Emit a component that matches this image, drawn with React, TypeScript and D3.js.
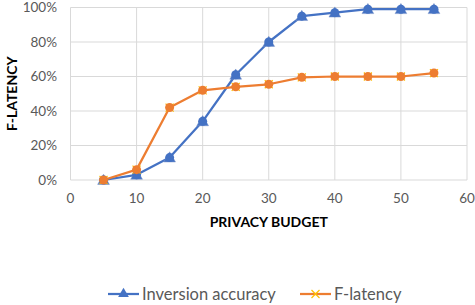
import React from 'react'
import * as d3 from 'd3'

const budgets = [5, 10, 15, 20, 25, 30, 35, 40, 45, 50, 55]
const inversionAccuracy = [0, 0.03, 0.13, 0.34, 0.61, 0.8, 0.95, 0.97, 0.99, 0.99, 0.99]
const fLatency = [0, 0.06, 0.42, 0.52, 0.54, 0.555, 0.595, 0.6, 0.6, 0.6, 0.62]
const xTicks = [0, 10, 20, 30, 40, 50, 60]
const yTicks = [0, 0.2, 0.4, 0.6, 0.8, 1]

const W = 475
const H = 305
const m = { left: 70.5, right: 8, top: 7.5, bottom: 125 }
const blue = '#4472C4'
const orange = '#ED7D31'
const font = 'Lato, "Open Sans", sans-serif'

export default function App() {
  const x = d3.scaleLinear().domain([0, 60]).range([m.left, W - m.right])
  const y = d3.scaleLinear().domain([0, 1]).range([H - m.bottom, m.top])

  const line = d3.line<number>()
    .x((_, i) => x(budgets[i]))
    .y(v => y(v))

  const tri = d3.symbol(d3.symbolTriangle, 60)()
  const cross = 'M-4,-4L4,4M-4,4L4,-4'

  return (
    <svg width={W} height={H} style={{ position: 'absolute', left: 0, top: 0, background: '#fff' }} fontFamily={font}>
      {yTicks.map(t => (
        <g key={'y' + t}>
          <line x1={x(0)} x2={x(60)} y1={y(t)} y2={y(t)} stroke="#d9d9d9" strokeWidth={1} />
          <text x={57} y={y(t)} dy="0.35em" textAnchor="end" fontSize={13.5} fill="#595959">{d3.format('.0%')(t)}</text>
        </g>
      ))}
      {xTicks.map(t => (
        <g key={'x' + t}>
          <line x1={x(t)} x2={x(t)} y1={y(0)} y2={y(1)} stroke="#d9d9d9" strokeWidth={1} />
          <text x={x(t)} y={y(0) + 23} textAnchor="middle" fontSize={13.5} fill="#595959">{t}</text>
        </g>
      ))}
      <text x={(x(0) + x(60)) / 2} y={227} textAnchor="middle" fontSize={14} fontWeight="bold" fill="#000">PRIVACY BUDGET</text>
      <text transform={`translate(17,${(y(0) + y(1)) / 2}) rotate(-90)`} textAnchor="middle" fontSize={14} fontWeight="bold" fill="#000">F-LATENCY</text>

      <path d={line(inversionAccuracy) || ''} fill="none" stroke={blue} strokeWidth={2.25} strokeLinejoin="round" />
      {inversionAccuracy.map((v, i) => (
        <g key={'b' + i} transform={`translate(${x(budgets[i])},${y(v)})`}>
          <path d={tri} transform="translate(0,1)" fill={blue} stroke="#7f97c9" strokeWidth={0.5} />
          <circle r={4.5} fill={blue} />
        </g>
      ))}
      <path d={line(fLatency) || ''} fill="none" stroke={orange} strokeWidth={2.25} strokeLinejoin="round" />
      {fLatency.map((v, i) => (
        <g key={'o' + i} transform={`translate(${x(budgets[i])},${y(v)})`}>
          <path d={cross} stroke="#FFC000" strokeWidth={1.2} />
          <circle r={4.5} fill={orange} />
        </g>
      ))}

      <g transform="translate(108,294)">
        <line x1={0} x2={31} stroke={blue} strokeWidth={2.25} />
        <path d={d3.symbol(d3.symbolTriangle, 50)()} transform="translate(15.5,0)" fill={blue} />
        <text x={34} dy="0.35em" fontSize={16.5} fill="#595959">Inversion accuracy</text>
      </g>
      <g transform="translate(300,294)">
        <line x1={0} x2={31} stroke={orange} strokeWidth={2.25} />
        <path d={cross} transform="translate(15.5,0)" stroke="#FFC000" strokeWidth={1.2} />
        <text x={34} dy="0.35em" fontSize={16.5} fill="#595959">F-latency</text>
      </g>
    </svg>
  )
}
